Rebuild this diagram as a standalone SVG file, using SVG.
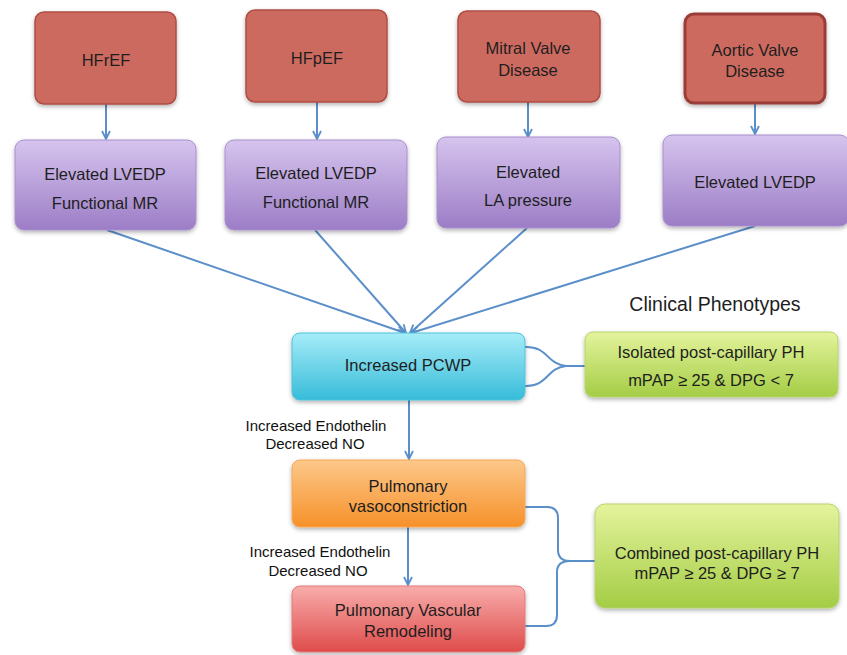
<svg xmlns="http://www.w3.org/2000/svg" width="847" height="655" viewBox="0 0 847 655">
<defs>
<linearGradient id="gPurple" x1="0" y1="0" x2="0" y2="1"><stop offset="0" stop-color="#d6c4ee"/><stop offset="1" stop-color="#9c7dc6"/></linearGradient>
<linearGradient id="gCyan" x1="0" y1="0" x2="0" y2="1"><stop offset="0" stop-color="#a6ecf8"/><stop offset="1" stop-color="#37bcd9"/></linearGradient>
<linearGradient id="gOrange" x1="0" y1="0" x2="0" y2="1"><stop offset="0" stop-color="#fdc88a"/><stop offset="1" stop-color="#f6912a"/></linearGradient>
<linearGradient id="gRed" x1="0" y1="0" x2="0" y2="1"><stop offset="0" stop-color="#f8adab"/><stop offset="1" stop-color="#de4c4b"/></linearGradient>
<linearGradient id="gGreen" x1="0" y1="0" x2="0" y2="1"><stop offset="0" stop-color="#e4f39c"/><stop offset="1" stop-color="#a4cd45"/></linearGradient>
<filter id="sh" x="-10%" y="-10%" width="130%" height="140%"><feDropShadow dx="0" dy="2" stdDeviation="2" flood-color="#000" flood-opacity="0.3"/></filter>
<marker id="ah" viewBox="0 0 10 10" refX="9" refY="5" markerWidth="10" markerHeight="10" markerUnits="userSpaceOnUse" orient="auto"><path d="M1,1 L9,5 L1,9" fill="none" stroke="#5b8fc9" stroke-width="1.8"/></marker>
</defs>
<style>
.top{fill:#cd6a60;stroke:#b04c44;stroke-width:1.5}
.pur{fill:url(#gPurple);stroke:#a78fcf;stroke-width:1}
.t{font-family:"Liberation Sans",Arial,sans-serif;font-size:16.5px;fill:#1e1e1e;text-anchor:middle;dominant-baseline:central}
.s{font-family:"Liberation Sans",Arial,sans-serif;font-size:15px;fill:#111;text-anchor:middle;dominant-baseline:central}
.c{fill:none;stroke:#5b8fc9;stroke-width:2}
</style>
<rect width="847" height="655" fill="#fff"/>

<g id="connectors">
<line class="c" x1="106" y1="104" x2="106" y2="139" marker-end="url(#ah)"/>
<line class="c" x1="317" y1="102" x2="317" y2="139" marker-end="url(#ah)"/>
<line class="c" x1="528" y1="102" x2="528" y2="137" marker-end="url(#ah)"/>
<line class="c" x1="755" y1="103" x2="755" y2="134" marker-end="url(#ah)"/>
<line class="c" x1="107" y1="230" x2="405" y2="333" marker-end="url(#ah)"/>
<line class="c" x1="315" y1="230" x2="406" y2="333" marker-end="url(#ah)"/>
<line class="c" x1="527" y1="228" x2="410" y2="333" marker-end="url(#ah)"/>
<line class="c" x1="755" y1="226" x2="411" y2="333" marker-end="url(#ah)"/>
<line class="c" x1="409" y1="400" x2="409" y2="459" marker-end="url(#ah)"/>
<line class="c" x1="408" y1="527" x2="408" y2="585" marker-end="url(#ah)"/>
<path class="c" d="M525,347 C548,346 546,364 566,366 M525,386 C548,387 546,368 566,366 M566,366 H585"/>
<path class="c" d="M525,507 H547 Q558,507 558,518 V550 Q558,561 570,561 M525,626 H546 Q557,626 557,615 V572 Q557,561 570,561 M570,561 H595"/>
</g>

<g id="hfref"><rect class="top" x="35" y="12" width="141" height="92" rx="9" filter="url(#sh)"/><text class="t" x="106" y="60">HFrEF</text></g>
<g id="hfpef"><rect class="top" x="246" y="10" width="141" height="92" rx="9" filter="url(#sh)"/><text class="t" x="317" y="58">HFpEF</text></g>
<g id="mitral"><rect class="top" x="458" y="11" width="142" height="91" rx="9" filter="url(#sh)"/><text class="t" x="528" y="48">Mitral Valve</text><text class="t" x="528" y="70">Disease</text></g>
<g id="aortic"><rect class="top" x="685" y="14" width="140" height="89" rx="9" style="stroke:#9a3d37;stroke-width:3" filter="url(#sh)"/><text class="t" x="755" y="50">Aortic Valve</text><text class="t" x="755" y="71">Disease</text></g>

<g id="p1"><rect class="pur" x="15" y="140" width="181" height="90" rx="9" filter="url(#sh)"/><text class="t" x="105" y="174">Elevated LVEDP</text><text class="t" x="105" y="203">Functional MR</text></g>
<g id="p2"><rect class="pur" x="225" y="140" width="182" height="90" rx="9" filter="url(#sh)"/><text class="t" x="316" y="173">Elevated LVEDP</text><text class="t" x="316" y="202">Functional MR</text></g>
<g id="p3"><rect class="pur" x="437" y="137" width="183" height="91" rx="9" filter="url(#sh)"/><text class="t" x="528" y="172">Elevated</text><text class="t" x="528" y="200">LA pressure</text></g>
<g id="p4"><rect class="pur" x="663" y="135" width="186" height="91" rx="9" filter="url(#sh)"/><text class="t" x="755" y="182">Elevated LVEDP</text></g>

<g id="pcwp"><rect x="292" y="333" width="233" height="67" rx="8" fill="url(#gCyan)" stroke="#4cc3dc" filter="url(#sh)"/><text class="t" x="408" y="365">Increased PCWP</text></g>
<g id="phenotypes"><text class="t" x="715" y="304" style="font-size:19.5px">Clinical Phenotypes</text></g>
<g id="ipc"><rect x="585" y="332" width="253" height="65" rx="8" fill="url(#gGreen)" stroke="#b6d56c" filter="url(#sh)"/><text class="t" x="711" y="352">Isolated post-capillary PH</text><text class="t" x="711" y="380">mPAP ≥ 25 &amp; DPG &lt; 7</text></g>
<g id="label1"><text class="s" x="316" y="425">Increased Endothelin</text><text class="s" x="315" y="443">Decreased NO</text></g>
<g id="vaso"><rect x="292" y="460" width="233" height="67" rx="8" fill="url(#gOrange)" stroke="#f5a856" filter="url(#sh)"/><text class="t" x="408" y="486">Pulmonary</text><text class="t" x="408" y="506">vasoconstriction</text></g>
<g id="label2"><text class="s" x="320" y="551">Increased Endothelin</text><text class="s" x="318" y="570">Decreased NO</text></g>
<g id="remod"><rect x="292" y="586" width="233" height="66" rx="8" fill="url(#gRed)" stroke="#e37b79" filter="url(#sh)"/><text class="t" x="408" y="610">Pulmonary Vascular</text><text class="t" x="408" y="631">Remodeling</text></g>
<g id="cpc"><rect x="595" y="504" width="244" height="104" rx="10" fill="url(#gGreen)" stroke="#b6d56c" filter="url(#sh)"/><text class="t" x="717" y="553">Combined post-capillary PH</text><text class="t" x="717" y="573">mPAP ≥ 25 &amp; DPG ≥ 7</text></g>
</svg>
